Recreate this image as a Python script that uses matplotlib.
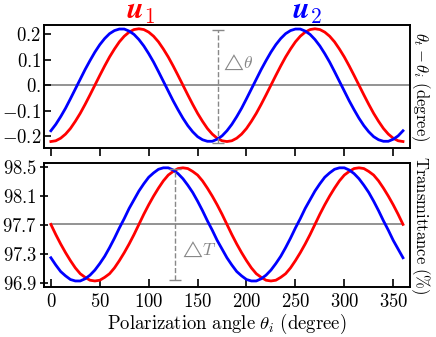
import numpy as np
import matplotlib
matplotlib.use("Agg")
import matplotlib.pyplot as plt

plt.rcParams["mathtext.fontset"] = "cm"
plt.rcParams["font.family"] = "serif"
plt.rcParams["font.serif"] = ["cmr10", "DejaVu Serif"]
plt.rcParams["axes.unicode_minus"] = False

# curves every 5 degrees over one period (0..180);
# the picture shows two identical periods, so the second is the same readings
period_angle = np.arange(0, 181, 5)
dtheta_u1_period = [-0.220, -0.217, -0.207, -0.191, -0.169, -0.141, -0.110, -0.075, -0.038, 0.000,
                    0.038, 0.075, 0.110, 0.141, 0.169, 0.191, 0.207, 0.217, 0.220, 0.217,
                    0.207, 0.191, 0.169, 0.141, 0.110, 0.075, 0.038, 0.000, -0.038, -0.075,
                    -0.110, -0.141, -0.169, -0.191, -0.207, -0.217, -0.220]
dtheta_u2_period = [-0.178, -0.153, -0.123, -0.090, -0.053, -0.015, 0.023, 0.061, 0.096, 0.129,
                    0.158, 0.182, 0.201, 0.213, 0.219, 0.219, 0.211, 0.198, 0.178, 0.153,
                    0.123, 0.090, 0.053, 0.015, -0.023, -0.061, -0.096, -0.129, -0.158, -0.182,
                    -0.201, -0.213, -0.219, -0.219, -0.211, -0.198, -0.178]
trans_u1_period = [97.71, 97.57, 97.44, 97.32, 97.21, 97.11, 97.03, 96.98, 96.94, 96.93,
                   96.94, 96.98, 97.03, 97.11, 97.21, 97.32, 97.44, 97.57, 97.71, 97.85,
                   97.98, 98.10, 98.21, 98.31, 98.39, 98.44, 98.48, 98.49, 98.48, 98.44,
                   98.39, 98.31, 98.21, 98.10, 97.98, 97.85, 97.71]
trans_u2_period = [97.25, 97.15, 97.06, 97.00, 96.95, 96.93, 96.93, 96.96, 97.01, 97.08,
                   97.17, 97.27, 97.39, 97.52, 97.66, 97.79, 97.93, 98.05, 98.17, 98.27,
                   98.36, 98.42, 98.47, 98.49, 98.49, 98.46, 98.41, 98.34, 98.25, 98.15,
                   98.03, 97.90, 97.76, 97.63, 97.49, 97.37, 97.25]

top_yticks = [-0.2, -0.1, 0.0, 0.1, 0.2]
top_ylabels = [r"$-0.2$", r"$-0.1$", r"$0.$", r"$0.1$", r"$0.2$"]
bot_yticks = [96.9, 97.3, 97.7, 98.1, 98.5]
xticks = [0, 50, 100, 150, 200, 250, 300, 350]

RED = "#ff0000"
BLUE = "#0000ff"
GRAY = "#888888"
TICK_FS = 13.5


def two_periods(values):
    values = np.asarray(values)
    return np.concatenate([values, values[1:]])


angle = np.concatenate([period_angle, period_angle[1:] + 180])

fig = plt.figure(figsize=(4.36, 3.37), dpi=100)
ax1 = fig.add_axes([0.101, 0.561, 0.839, 0.365])
ax2 = fig.add_axes([0.101, 0.148, 0.839, 0.368])

for ax in (ax1, ax2):
    for sp in ax.spines.values():
        sp.set_linewidth(1.4)
    ax.set_xlim(-7, 367)
    ax.set_xticks(xticks)

# top panel
ax1.axhline(0, color="#808080", lw=1.2, zorder=1)
ax1.plot(angle, two_periods(dtheta_u1_period), color=RED, lw=2.0)
ax1.plot(angle, two_periods(dtheta_u2_period), color=BLUE, lw=2.0)
ax1.set_ylim(-0.245, 0.235)
ax1.set_yticks(top_yticks)
ax1.set_yticklabels(top_ylabels, fontsize=TICK_FS)
ax1.tick_params(axis="x", direction="out", length=6, width=1.2, labelbottom=False)
ax1.tick_params(axis="y", direction="in", length=5, width=1.2, pad=2)
eb = ax1.errorbar([171], [-0.004], yerr=[[0.22], [0.22]], fmt="none", ecolor=GRAY,
                  elinewidth=1.0, capsize=4)
eb.lines[2][0].set_linestyle("--")
ax1.text(173, 0.087, r"$\triangle\!\theta$", color=GRAY, fontsize=12.5, va="center")
ax1.yaxis.set_label_position("right")
ax1.set_ylabel(r"$\theta_t-\theta_i\ \mathrm{(degree)}$", rotation=270, fontsize=12, labelpad=16)
ax1.text(92, 1.1, r"$\boldsymbol{u}_1$", color=RED, fontsize=22, ha="center", va="center",
         transform=ax1.get_xaxis_transform())
ax1.text(262, 1.1, r"$\boldsymbol{u}_2$", color=BLUE, fontsize=22, ha="center", va="center",
         transform=ax1.get_xaxis_transform())

# bottom panel
ax2.plot([0, 360], [97.71, 97.71], color="#808080", lw=1.2, zorder=1)
ax2.plot(angle, two_periods(trans_u1_period), color=RED, lw=2.0)
ax2.plot(angle, two_periods(trans_u2_period), color=BLUE, lw=2.0)
ax2.set_ylim(96.845, 98.555)
ax2.set_yticks(bot_yticks)
ax2.set_yticklabels([rf"${v:.1f}$" for v in bot_yticks], fontsize=TICK_FS)
ax2.set_xticklabels([rf"${v}$" for v in xticks], fontsize=TICK_FS)
ax2.tick_params(axis="x", direction="in", length=6, width=1.2, pad=4)
ax2.tick_params(axis="y", direction="inout", length=6, width=1.2, pad=2)
eb = ax2.errorbar([127], [97.71], yerr=[[0.77], [0.77]], fmt="none", ecolor=GRAY,
                  elinewidth=1.0, capsize=4)
eb.lines[2][0].set_linestyle("--")
ax2.text(131, 97.37, r"$\triangle\!T$", color=GRAY, fontsize=12.5, va="center")
ax2.yaxis.set_label_position("right")
ax2.set_ylabel(r"$\mathrm{Transmittance\ (\%)}$", rotation=270, fontsize=12, labelpad=16)
ax2.set_xlabel(r"$\mathrm{Polarization\ angle}\ \theta_i\ \mathrm{(degree)}$", fontsize=13.5, labelpad=1)

fig.savefig("out.png", dpi=100)
